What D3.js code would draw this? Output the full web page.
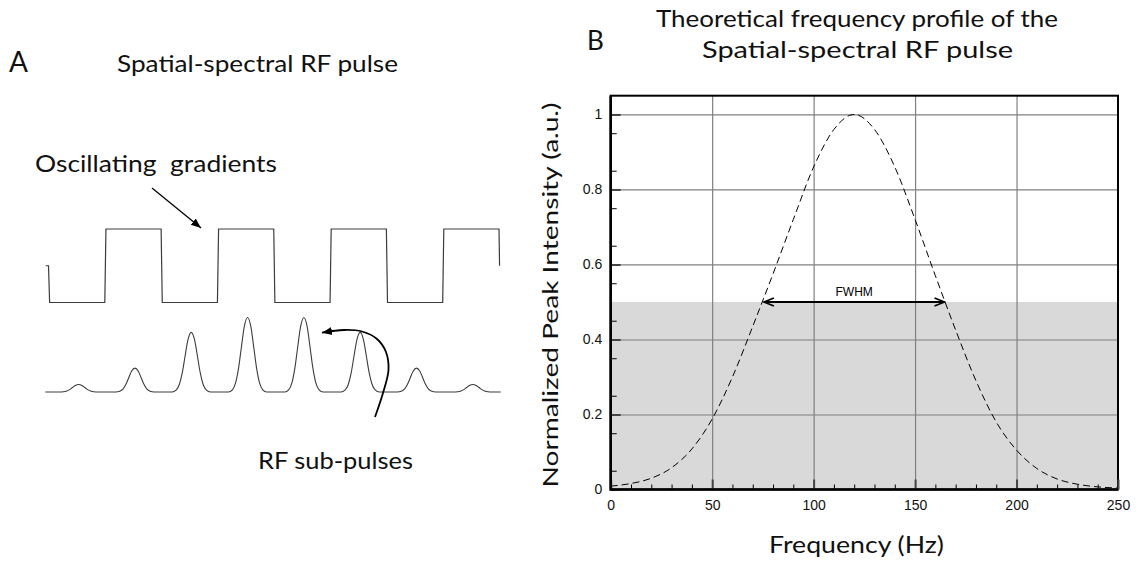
<!DOCTYPE html>
<html>
<head>
<meta charset="utf-8">
<script src="https://cdn.jsdelivr.net/npm/d3@7"></script>
<style>
body { margin: 0; background: #fff; }
svg { display: block; }
.serifish { font-family: Lato, "Open Sans", sans-serif; fill: #111; }
</style>
</head>
<body>
<svg></svg>
<script>
var width = 1140;
var height = 562;

// ---- panel A data (schematic pulse train) ----
var gradientLevels = [-1, 1, -1, 1, -1, 1, -1, 1];          // one level per half period
var pulseAmplitudes = [0.1, 0.32, 0.8, 1, 1, 0.8, 0.32, 0.1]; // RF sub-pulse heights
var pulseShapeOffset = [-0.34, -0.27, -0.21, -0.16, -0.11, -0.06, 0, 0.06, 0.11, 0.16, 0.21, 0.27, 0.34];
var pulseShapeHeight = [0, 0.03, 0.13, 0.32, 0.6, 0.87, 1, 0.87, 0.6, 0.32, 0.13, 0.03, 0];
var pulseCentre = 0.535;

// ---- panel B data (frequency profile) ----
var frequency = [0, 10, 20, 30, 40, 50, 60, 70, 80, 90, 100, 110, 120, 130, 140, 150, 160, 170, 180, 190, 200, 210, 220, 230, 240, 250];
var intensity = [0.009, 0.016, 0.03, 0.058, 0.108, 0.188, 0.3, 0.435, 0.575, 0.72, 0.86, 0.96, 1.0, 0.96, 0.86, 0.72, 0.57, 0.425, 0.29, 0.18, 0.105, 0.056, 0.028, 0.014, 0.007, 0.004];
var xTicks = [0, 50, 100, 150, 200, 250];
var yTicks = [0, 0.2, 0.4, 0.6, 0.8, 1];
var xGrid = [50, 100, 150, 200];
var yGrid = [0.2, 0.4, 0.6, 0.8, 1];
var halfMax = 0.5;
var fwhmLow = 75.5;
var fwhmHigh = 164.5;

var svg = d3.select("svg")
    .attr("width", width)
    .attr("height", height);

var defs = svg.append("defs");
defs.append("marker")
    .attr("id", "tri")
    .attr("viewBox", "-10 -5 11 10")
    .attr("refX", 0).attr("refY", 0)
    .attr("markerWidth", 11).attr("markerHeight", 10)
    .attr("markerUnits", "userSpaceOnUse")
    .attr("orient", "auto-start-reverse")
  .append("path")
    .attr("d", "M-10,-4 L0,0 L-10,4 Z")
    .attr("fill", "#000");
defs.append("marker")
    .attr("id", "chev")
    .attr("viewBox", "-12 -6 13 12")
    .attr("refX", 0).attr("refY", 0)
    .attr("markerWidth", 13).attr("markerHeight", 12)
    .attr("markerUnits", "userSpaceOnUse")
    .attr("orient", "auto-start-reverse")
  .append("path")
    .attr("d", "M-10,-4 L0,0 L-10,4")
    .attr("fill", "none")
    .attr("stroke", "#000")
    .attr("stroke-width", 1.6);

// ================= PANEL A =================
var tScale = d3.scaleLinear().domain([0, 8]).range([48.5, 499]);
var gradScale = d3.scaleLinear().domain([-1, 1]).range([302.5, 229]);
var pulseScale = d3.scaleLinear().domain([0, 1]).range([392, 317.5]);

var gradPoints = [[-0.05, 0], [0, 0]];
gradientLevels.forEach(function(lv, i){
    gradPoints.push([i + 0.02, lv]);
    gradPoints.push([i + 1, lv]);
});
gradPoints.push([8.01, 0]);

var pulsePoints = [[-0.057, 0]];
pulseAmplitudes.forEach(function(a, i){
    pulseShapeOffset.forEach(function(o, j){
        pulsePoints.push([i + pulseCentre + o, a * pulseShapeHeight[j]]);
    });
});
pulsePoints.push([8.03, 0]);

svg.append("path")
    .datum(gradPoints)
    .attr("fill", "none")
    .attr("stroke", "#3c3c3c")
    .attr("stroke-width", 1.2)
    .attr("d", d3.line().x(d => tScale(d[0])).y(d => gradScale(d[1])));

svg.append("path")
    .datum(pulsePoints)
    .attr("fill", "none")
    .attr("stroke", "#3c3c3c")
    .attr("stroke-width", 1.1)
    .attr("d", d3.line().curve(d3.curveMonotoneX).x(d => tScale(d[0])).y(d => pulseScale(d[1])));

// labels + arrows
svg.append("text").attr("class", "serifish")
    .attr("x", 9).attr("y", 72)
    .style("font-size", "28px")
    .text("A");

svg.append("text").attr("class", "serifish")
    .attr("x", 117).attr("y", 72)
    .attr("textLength", 281).attr("lengthAdjust", "spacingAndGlyphs")
    .style("font-size", "23px")
    .text("Spatial-spectral RF pulse");

svg.append("text").attr("class", "serifish")
    .attr("x", 35).attr("y", 172)
    .attr("textLength", 242).attr("lengthAdjust", "spacingAndGlyphs")
    .style("font-size", "23px")
    .style("white-space", "pre")
    .text("Oscillating  gradients");

svg.append("line")
    .attr("x1", 152).attr("y1", 188)
    .attr("x2", 201).attr("y2", 228)
    .attr("stroke", "#000").attr("stroke-width", 1.3)
    .attr("marker-end", "url(#tri)");

var curvePts = [[375, 417], [383, 393], [388.5, 370], [386, 352], [377, 339], [362, 331.5], [344, 330], [322, 332.7]];
svg.append("path")
    .datum(curvePts)
    .attr("fill", "none")
    .attr("stroke", "#000").attr("stroke-width", 1.8)
    .attr("marker-end", "url(#tri)")
    .attr("d", d3.line().curve(d3.curveCatmullRom)(curvePts));

svg.append("text").attr("class", "serifish")
    .attr("x", 258).attr("y", 469)
    .attr("textLength", 155).attr("lengthAdjust", "spacingAndGlyphs")
    .style("font-size", "24px")
    .text("RF sub-pulses");

// ================= PANEL B =================
var xScale = d3.scaleLinear().domain([0, 250]).range([610.7, 1118]);
var yScale = d3.scaleLinear().domain([0, 1.05]).range([489.5, 95.7]);

// shaded half-max band
svg.append("rect")
    .attr("x", xScale(0))
    .attr("y", yScale(halfMax))
    .attr("width", xScale(250) - xScale(0))
    .attr("height", yScale(0) - yScale(halfMax))
    .attr("fill", "#d9d9d9");

//adding the GRID
var gx = svg.append("g")
    .attr("transform", "translate(0," + yScale(0) + ")")
    .call(d3.axisBottom(xScale).tickValues(xGrid).tickFormat("")
        .tickSize(-(yScale(0) - yScale(1.05))).tickSizeOuter(0));
var gy = svg.append("g")
    .attr("transform", "translate(" + xScale(0) + ",0)")
    .call(d3.axisLeft(yScale).tickValues(yGrid).tickFormat("")
        .tickSize(-(xScale(250) - xScale(0))).tickSizeOuter(0));
[gx, gy].forEach(function(g){
    g.select(".domain").remove();
    g.selectAll("line").attr("stroke", "#808080").attr("stroke-width", 1.2);
});

// profile curve
svg.append("path")
    .datum(frequency.map((f, i) => [f, intensity[i]]))
    .attr("fill", "none")
    .attr("stroke", "#000")
    .attr("stroke-width", 1)
    .attr("stroke-dasharray", "7,4")
    .attr("d", d3.line().curve(d3.curveMonotoneX).x(d => xScale(d[0])).y(d => yScale(d[1])));

// frame
svg.append("rect")
    .attr("x", xScale(0)).attr("y", yScale(1.05))
    .attr("width", xScale(250) - xScale(0))
    .attr("height", yScale(0) - yScale(1.05))
    .attr("fill", "none").attr("stroke", "#000").attr("stroke-width", 2);

// minor ticks
var minorX = svg.append("g")
    .attr("transform", "translate(0," + yScale(0) + ")")
    .call(d3.axisBottom(xScale).tickValues(d3.range(10, 250, 10).filter(v => v % 50)).tickFormat("").tickSize(-5).tickSizeOuter(0));
var minorY = svg.append("g")
    .attr("transform", "translate(" + xScale(0) + ",0)")
    .call(d3.axisLeft(yScale).tickValues(d3.range(0.05, 1.05, 0.1)).tickFormat("").tickSize(-6).tickSizeOuter(0));
[minorX, minorY].forEach(function(g){
    g.select(".domain").remove();
    g.selectAll("line").attr("stroke", "#000").attr("stroke-width", 1);
});

// major ticks + labels
var xAxis = svg.append("g")
    .attr("transform", "translate(0," + yScale(0) + ")")
    .call(d3.axisBottom(xScale).tickValues(xTicks).tickSize(-10).tickPadding(10.5).tickSizeOuter(0));
var yAxis = svg.append("g")
    .attr("transform", "translate(" + xScale(0) + ",0)")
    .call(d3.axisLeft(yScale).tickValues(yTicks).tickFormat(d3.format("")).tickSize(-10).tickPadding(8.5).tickSizeOuter(0));
[xAxis, yAxis].forEach(function(g){
    g.select(".domain").remove();
    g.selectAll("line").attr("stroke", "#444").attr("stroke-width", 2);
    g.selectAll("text")
        .attr("fill", "#111")
        .style("font-family", "'Liberation Sans', Arial, sans-serif")
        .style("font-size", "14px");
});

// heavier left/bottom spine
svg.append("path")
    .attr("d", "M" + xScale(0) + "," + yScale(1.05) + "V" + yScale(0) + "H" + xScale(250))
    .attr("fill", "none").attr("stroke", "#000").attr("stroke-width", 2.6);

// FWHM arrow
svg.append("line")
    .attr("x1", xScale(fwhmLow)).attr("y1", yScale(halfMax))
    .attr("x2", xScale(fwhmHigh)).attr("y2", yScale(halfMax))
    .attr("stroke", "#000").attr("stroke-width", 2)
    .attr("marker-start", "url(#chev)")
    .attr("marker-end", "url(#chev)");
svg.append("text")
    .attr("x", xScale((fwhmLow + fwhmHigh) / 2)).attr("y", yScale(halfMax) - 5.5)
    .style("text-anchor", "middle")
    .style("font-family", "'Liberation Sans', Arial, sans-serif")
    .style("font-size", "12px")
    .text("FWHM");

//TITLE
svg.append("text").attr("class", "serifish")
    .attr("x", 587).attr("y", 50)
    .style("font-size", "26px")
    .text("B");
svg.append("text").attr("class", "serifish")
    .attr("x", 857).attr("y", 27)
    .attr("textLength", 402).attr("lengthAdjust", "spacingAndGlyphs")
    .style("text-anchor", "middle")
    .style("font-size", "23px")
    .text("Theoretical frequency profile of the");
svg.append("text").attr("class", "serifish")
    .attr("x", 857.5).attr("y", 58)
    .attr("textLength", 311).attr("lengthAdjust", "spacingAndGlyphs")
    .style("text-anchor", "middle")
    .style("font-size", "23px")
    .text("Spatial-spectral RF pulse");

//x-axis
svg.append("text").attr("class", "serifish")
    .attr("x", 856.5).attr("y", 553)
    .attr("textLength", 175).attr("lengthAdjust", "spacingAndGlyphs")
    .style("text-anchor", "middle")
    .style("font-size", "24px")
    .text("Frequency (Hz)");

//y-axis
svg.append("text").attr("class", "serifish")
    .attr("transform", "translate(558,295) rotate(-90)")
    .attr("textLength", 385).attr("lengthAdjust", "spacingAndGlyphs")
    .style("text-anchor", "middle")
    .style("font-size", "22px")
    .text("Normalized Peak Intensity (a.u.)");
</script>
</body>
</html>
